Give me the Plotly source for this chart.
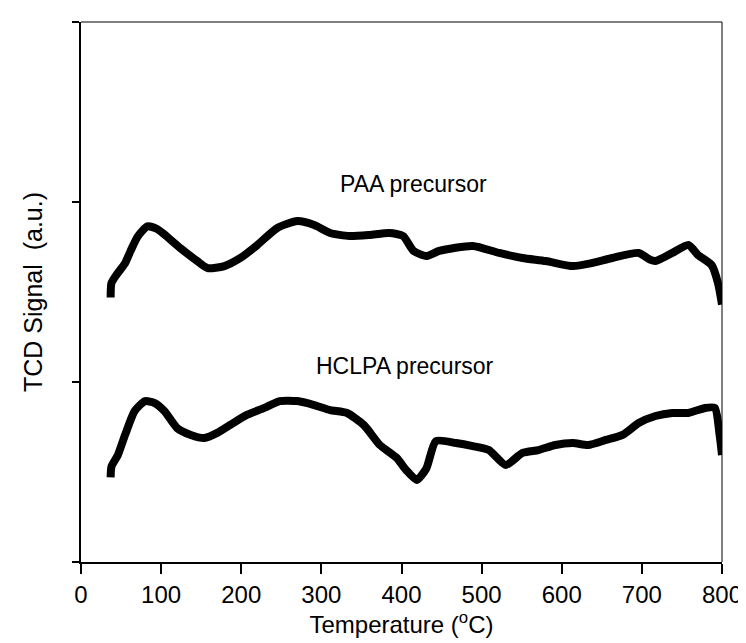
import plotly.graph_objects as go

# PAA precursor (temperature °C, TCD signal a.u.)
paa_temp = [37, 38, 45, 55, 62, 71, 83, 95, 104, 124, 145, 158, 179, 199, 220, 245, 270, 291, 311,
            335, 360, 385, 402, 415, 431, 447, 489, 522, 551, 580, 614, 638, 663, 696, 710, 717,
            738, 758, 770, 787, 795, 800]
paa_signal = [1.47, 1.55, 1.60, 1.66, 1.73, 1.81, 1.865, 1.85, 1.82, 1.744, 1.672, 1.633, 1.644,
              1.689, 1.761, 1.856, 1.894, 1.872, 1.828, 1.811, 1.817, 1.828, 1.811, 1.728, 1.70,
              1.728, 1.756, 1.717, 1.689, 1.672, 1.644, 1.661, 1.689, 1.717, 1.68, 1.672, 1.717,
              1.761, 1.706, 1.650, 1.55, 1.43]

# HCLPA precursor
hclpa_temp = [37, 38, 46, 55, 67, 80, 92, 104, 120, 137, 154, 170, 186, 207, 229, 248, 270, 291,
              311, 332, 353, 373, 394, 406, 419, 431, 443, 468, 489, 509, 530, 551, 571, 592, 614,
              633, 655, 676, 696, 717, 738, 758, 779, 791, 797, 800]
hclpa_signal = [0.47, 0.53, 0.594, 0.706, 0.839, 0.894, 0.883, 0.839, 0.744, 0.706, 0.689, 0.717,
                0.761, 0.817, 0.856, 0.894, 0.894, 0.872, 0.844, 0.828, 0.761, 0.65, 0.578, 0.51,
                0.456, 0.52, 0.672, 0.661, 0.644, 0.622, 0.539, 0.606, 0.622, 0.65, 0.661, 0.65,
                0.678, 0.706, 0.772, 0.811, 0.828, 0.828, 0.856, 0.856, 0.706, 0.594]

x_ticks = [0, 100, 200, 300, 400, 500, 600, 700, 800]
y_ticks = [0, 1, 2, 3]

FONT = "Liberation Sans, Arial, sans-serif"

fig = go.Figure()
for t, s in [(paa_temp, paa_signal), (hclpa_temp, hclpa_signal)]:
    fig.add_trace(go.Scatter(x=t, y=s, mode="lines",
                             line=dict(color="black", width=8, shape="spline", smoothing=0.6),
                             showlegend=False, hoverinfo="skip"))

fig.add_annotation(x=415, y=2.10, text="PAA precursor", showarrow=False,
                   font=dict(family=FONT, size=23, color="black"))
fig.add_annotation(x=404, y=1.09, text="HCLPA precursor", showarrow=False,
                   font=dict(family=FONT, size=23, color="black"))

# thin top/right frame lines
fig.add_shape(type="line", xref="paper", yref="paper", x0=0, x1=1, y0=1, y1=1,
              line=dict(color="black", width=1))
fig.add_shape(type="line", xref="paper", yref="paper", x0=1, x1=1, y0=0, y1=1,
              line=dict(color="black", width=1))

fig.update_layout(
    width=746, height=643,
    margin=dict(l=73, r=29, t=14, b=89),
    plot_bgcolor="white", paper_bgcolor="white",
    font=dict(family=FONT, color="black", size=24),
    xaxis=dict(range=[0, 800], tickvals=x_ticks, ticktext=[str(v) for v in x_ticks],
               showline=True, linecolor="black", linewidth=2, ticks="outside",
               ticklen=10, tickwidth=2, tickcolor="black", showgrid=False, zeroline=False,
               tickfont=dict(size=24),
               title=dict(text="Temperature (<sup>o</sup>C)", font=dict(size=24), standoff=0)),
    yaxis=dict(range=[0, 3], tickvals=y_ticks, showticklabels=False,
               showline=True, linecolor="black", linewidth=2, ticks="outside",
               ticklen=7, tickwidth=2, tickcolor="black", showgrid=False, zeroline=False,
               title=dict(text="TCD Signal  (a.u.)", font=dict(size=25), standoff=22)),
)

fig.write_html("out.html")
